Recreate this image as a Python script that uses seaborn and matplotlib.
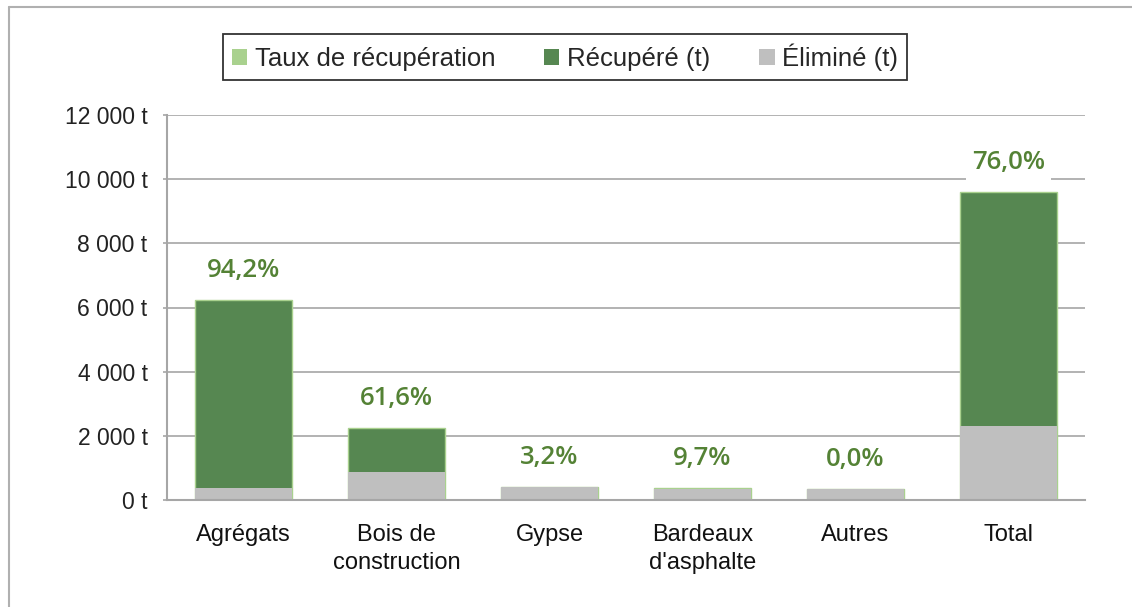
import matplotlib
matplotlib.use("Agg")
import matplotlib.pyplot as plt
import seaborn as sns
import pandas as pd
from matplotlib.patches import Patch
from matplotlib.lines import Line2D

categories = ["Agrégats", "Bois de\nconstruction", "Gypse", "Bardeaux\nd'asphalte", "Autres", "Total"]
recupere = [5870, 1385, 13, 36, 0, 7304]
elimine = [360, 860, 392, 338, 343, 2293]
taux_labels = ["94,2%", "61,6%", "3,2%", "9,7%", "0,0%", "76,0%"]
yticks = [0, 2000, 4000, 6000, 8000, 10000, 12000]
ytick_labels = ["0 t", "2 000 t", "4 000 t", "6 000 t", "8 000 t", "10 000 t", "12 000 t"]

GREEN = "#568751"
LIGHT_GREEN = "#a9d18e"
GRAY = "#bfbfbf"
LABEL_GREEN = "#548235"

sns.set_theme(style="white")
plt.rcParams["font.family"] = ["Liberation Sans", "DejaVu Sans"]

df = pd.DataFrame({"cat": categories, "rec": recupere, "eli": elimine})
df["tot"] = df["rec"] + df["eli"]

fig = plt.figure(figsize=(11.32, 6.07), dpi=100)
ax = fig.add_axes([167 / 1132, 1 - 500 / 607, (1085 - 167) / 1132, (500 - 115) / 607])

sns.barplot(data=df, x="cat", y="tot", color=GREEN, width=0.64, ax=ax,
            edgecolor=LIGHT_GREEN, linewidth=1.0, saturation=1)
sns.barplot(data=df, x="cat", y="eli", color=GRAY, width=0.64, ax=ax,
            linewidth=0, saturation=1)

ax.set_ylim(0, 12000)
ax.set_xlim(-0.5, len(categories) - 0.5)
ax.set_yticks(yticks)
ax.set_yticklabels(ytick_labels, fontsize=16.5, color="#222222")
ax.set_xticks(range(len(categories)))
ax.set_xticklabels(categories, fontsize=17, color="#111111", linespacing=1.4)
ax.set_xlabel("")
ax.set_ylabel("")
ax.tick_params(axis="y", which="both", length=3, color="#a6a6a6", width=1.2, pad=11, direction="out", left=True)
ax.tick_params(axis="x", length=0, pad=17)
ax.yaxis.grid(True, color="#a6a6a6", linewidth=1.2)
ax.set_axisbelow(True)
for s in ["top", "right"]:
    ax.spines[s].set_visible(False)
for s in ["left", "bottom"]:
    ax.spines[s].set_color("#a6a6a6")
    ax.spines[s].set_linewidth(1.5)

for i, (t, lab) in enumerate(zip(df["tot"], taux_labels)):
    ax.annotate(lab, xy=(i, t), xytext=(0, 12), textcoords="offset points",
                ha="center", va="bottom", fontsize=18.5, color=LABEL_GREEN,
                family=["Open Sans", "DejaVu Sans"], fontweight="semibold",
                bbox=dict(boxstyle="square,pad=0.25", fc="white", ec="none"))

handles = [Patch(facecolor=LIGHT_GREEN, edgecolor="none", label="Taux de récupération"),
           Patch(facecolor=GREEN, edgecolor="none", label="Récupéré (t)"),
           Patch(facecolor=GRAY, edgecolor="none", label="Éliminé (t)")]
leg = fig.legend(handles=handles, loc="center", bbox_to_anchor=(565 / 1132, 1 - 57 / 607),
                 ncol=3, frameon=True, fancybox=False,
                 prop={"size": 18.5},
                 handlelength=0.6, handleheight=0.6, handletextpad=0.3, columnspacing=1.9,
                 borderpad=0.35, borderaxespad=0)
leg.get_frame().set_edgecolor("#000000")
leg.get_frame().set_linewidth(1.3)

fig.add_artist(Line2D([9 / 1132, 1], [1 - 7 / 607, 1 - 7 / 607], transform=fig.transFigure,
                      color="#b0b0b0", linewidth=1.5))
fig.add_artist(Line2D([9 / 1132, 9 / 1132], [0, 1 - 7 / 607], transform=fig.transFigure,
                      color="#b0b0b0", linewidth=1.5))

fig.savefig("out.png", dpi=100, facecolor="white")
